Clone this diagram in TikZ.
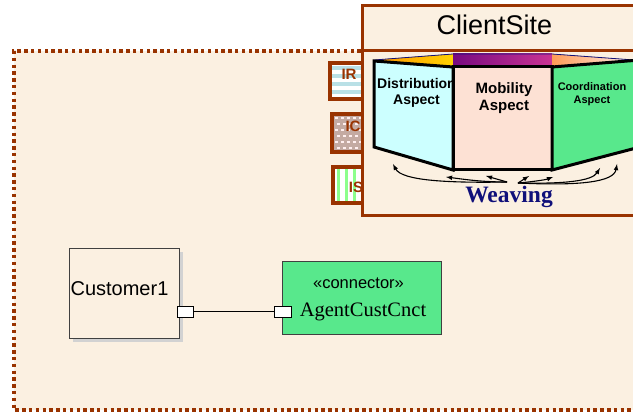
\documentclass[tikz,border=0pt]{standalone}
\usepackage{fontspec}
\setmainfont{Liberation Serif}
\setsansfont{Liberation Sans}
\usetikzlibrary{positioning}

\definecolor{rust}{HTML}{993300}
\definecolor{sand}{HTML}{FBF0E1}
\definecolor{mint}{HTML}{58E88C}
\definecolor{aqua}{HTML}{CCFFFF}
\definecolor{peach}{HTML}{FDE1D4}
\definecolor{navy}{HTML}{10107A}
\definecolor{frame}{HTML}{404040}
\definecolor{stripe}{HTML}{B9E0E6}
\definecolor{pebble}{HTML}{C4AAA2}
\definecolor{grape}{HTML}{780A80}
\definecolor{rose}{HTML}{CA3494}

\tikzset{
  port/.style={draw=black, fill=white, line width=0.8pt, inner sep=0pt,
    minimum height=11pt},
  marker/.style={draw=rust, line width=3.6pt},
  tag/.style={font=\sffamily\bfseries\fontsize{15}{15}\selectfont, text=rust},
  panel/.style={draw=black, line width=3pt, line join=miter},
  aspect/.style={font=\sffamily\bfseries, align=center, text=black},
  weave/.style={-latex, line width=1.1pt},
}

\begin{document}
\begin{tikzpicture}[x=1pt,y=-1pt]
  \useasboundingbox (0,0) rectangle (633,412);
  \clip (0,0) rectangle (633,412);

  % package area
  \fill[sand] (14,51) rectangle (660,410);
  \draw[rust, line width=3.5pt, dash pattern=on 3.5pt off 3.3pt]
    (660,51) -- (14,51) -- (14,410) -- (660,410);

  % interface markers IR, IC, IS
  \fill[white] (330,63) rectangle (364,99);
  \foreach \y in {66,74,82,90}
    \fill[stripe] (331,\y) rectangle (363,\y+4);
  \draw[marker] (330,63) rectangle (364,99);
  \node[tag] (ir) at (349,74) {IR};

  \fill[pebble] (332,114) rectangle (370,152);
  \foreach \i in {0,...,5}
    \foreach \j in {0,...,5}
      \fill[white!75!pink] ({335+6*\i+2*mod(\j,2)},{117+6*\j}) rectangle +(2.5,2.5);
  \draw[marker] (332,114) rectangle (370,152);
  \node[tag] (ic) at (353,126) {IC};

  \fill[white] (333,167) rectangle (370,203);
  \foreach \x in {337,345,353}
    \fill[green!45] (\x,168) rectangle (\x+2.5,202);
  \draw[marker] (333,167) rectangle (370,203);
  \node[tag] (is) at (356,187) {IS};

  % client site
  \draw[rust, fill=sand, line width=3pt] (362.5,6) rectangle (660,215);
  \draw[rust, line width=3pt] (362.5,51) -- (660,51);
  \node[anchor=base, font=\sffamily\fontsize{27}{30}\selectfont] (site)
    at (494.5,35) {ClientSite};

  % top band of the aspects
  \fill[left color=orange!85!yellow, right color=yellow!65!orange]
    (374,60) -- (453,54) -- (453,66) -- cycle;
  \fill[left color=grape, right color=rose]
    (453,54) rectangle (552,66);
  \fill[left color=orange!55!pink, right color=pink!25]
    (552,54) -- (634,60) -- (552,66) -- cycle;
  \draw[navy, line width=0.8pt] (374,60) -- (453,54) -- (552,54) -- (634,60);

  % aspect panels
  \draw[panel, fill=aqua] (374,61) -- (453,67) -- (453,170) -- (374,147) -- cycle;
  \draw[panel, fill=peach] (453,67) rectangle (552,170);
  \draw[panel, fill=mint] (552,67) -- (640,60) -- (640,147) -- (552,170) -- cycle;

  \begin{scope}
    \clip (374,61) -- (453,67) -- (453,170) -- (374,147) -- cycle;
    \node[aspect, font=\sffamily\bfseries\fontsize{14}{15.5}\selectfont]
      (dist) at (416.5,93) {Distribution\\Aspect};
  \end{scope}
  \node[aspect, font=\sffamily\bfseries\fontsize{15}{17}\selectfont]
    (mob) at (504,98) {Mobility\\Aspect};
  \node[aspect, font=\sffamily\bfseries\fontsize{11}{13}\selectfont]
    (coord) at (592,94) {Coordination\\Aspect};

  % weaving arrows
  \coordinate (wl) at (507,182);
  \coordinate (wr) at (518,183);
  \coordinate (dl) at (393,164);
  \coordinate (dm) at (446,177);
  \coordinate (ml) at (486,176);
  \coordinate (mr) at (529,176);
  \coordinate (cm) at (553,177);
  \coordinate (cl) at (600,168);
  \coordinate (cr) at (617,164);
  \draw[weave] (wl) .. controls (450,183) and (402,181) .. (dl);
  \draw[weave] (wl) .. controls (480,182) and (462,179) .. (dm);
  \draw[weave] (wl) -- (ml);
  \draw[weave] (wr) -- (mr);
  \draw[weave] (wr) .. controls (530,182) and (545,180) .. (cm);
  \draw[weave] (wr) .. controls (565,184) and (592,181) .. (cl);
  \draw[weave] (wr) .. controls (580,186) and (614,182) .. (cr);
  \node[font=\bfseries\fontsize{23.5}{25}\selectfont, text=navy, anchor=base]
    (weaving) at (509,203) {Weaving};

  % customer part with its port
  \fill[gray!35] (73,252) rectangle (183,342);
  \node[draw=frame, fill=sand, line width=0.9pt, minimum width=110pt,
    minimum height=90pt, inner sep=0pt] (cust) at (124,293) {};
  \node[anchor=base, font=\sffamily\fontsize{20}{22}\selectfont]
    (custname) at (119.5,295) {Customer1};

  % connector
  \node[draw=frame, fill=mint, line width=0.9pt, minimum width=159pt,
    minimum height=73pt, inner sep=0pt] (cnct) at (361.5,297.5) {};
  \node[anchor=base, font=\sffamily\fontsize{16.5}{18}\selectfont]
    (stereo) at (358.5,288) {«connector»};
  \node[anchor=base, font=\fontsize{20.5}{22}\selectfont]
    (cnctname) at (363,316) {AgentCustCnct};

  \node[port, minimum width=16pt] (p1) at (185.5,311.5) {};
  \node[port, minimum width=17pt] (p2) at (283,311.5) {};
  \draw[line width=0.8pt] (p1) -- (p2);
\end{tikzpicture}
\end{document}
